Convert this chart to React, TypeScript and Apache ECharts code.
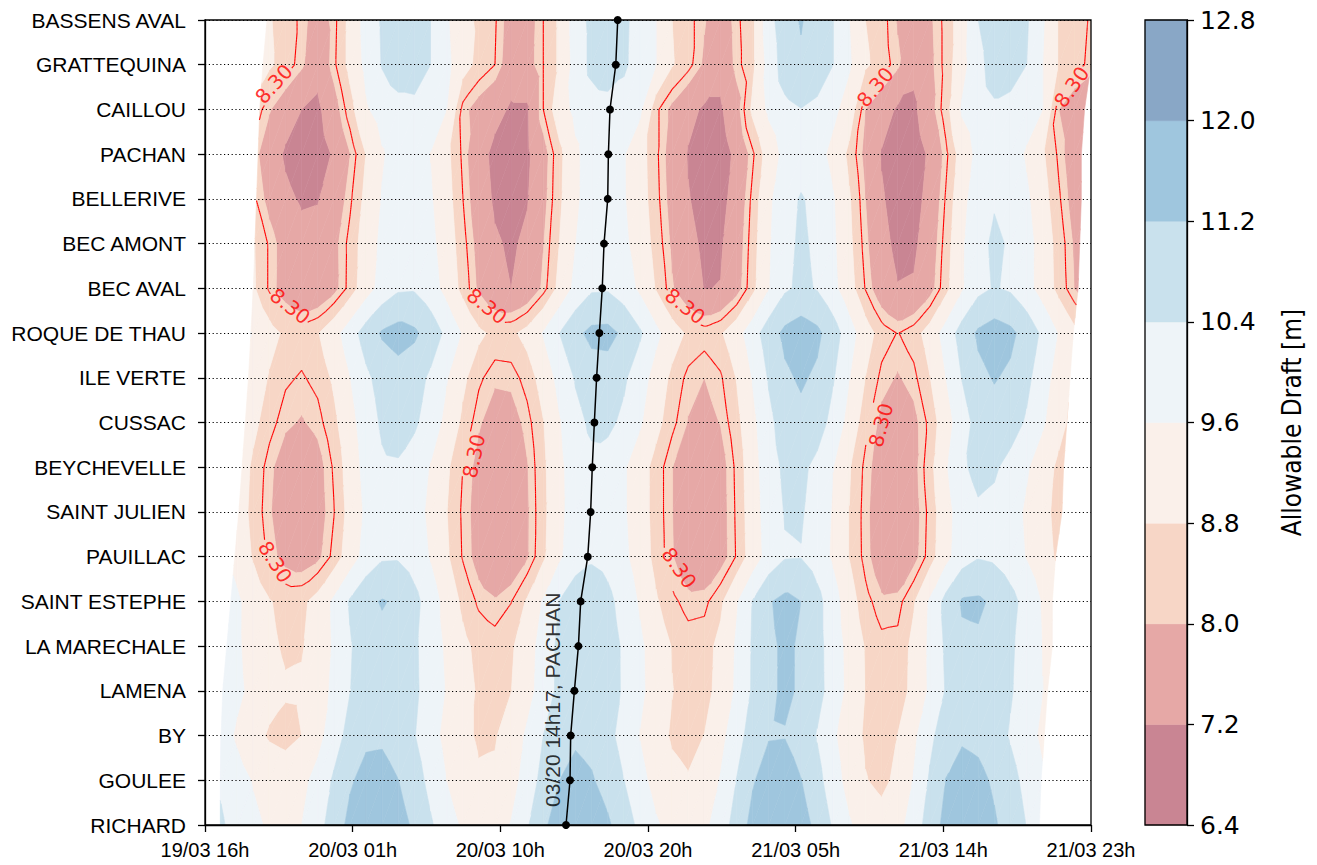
import React, { useEffect, useRef } from "react";
import * as echarts from "echarts";

// ---------- categories & ticks ----------
const stations = [
  "RICHARD", "GOULEE", "BY", "LAMENA", "LA MARECHALE", "SAINT ESTEPHE", "PAUILLAC",
  "SAINT JULIEN", "BEYCHEVELLE", "CUSSAC", "ILE VERTE", "ROQUE DE THAU", "BEC AVAL",
  "BEC AMONT", "BELLERIVE", "PACHAN", "CAILLOU", "GRATTEQUINA", "BASSENS AVAL",
];
const timeTickLabels = ["19/03 16h", "20/03 01h", "20/03 10h", "20/03 20h", "21/03 05h", "21/03 14h", "21/03 23h"];
const levels = [6.4, 7.2, 8.0, 8.8, 9.6, 10.4, 11.2, 12.0, 12.8];
const bandColors = ["#c98593", "#e6a8a6", "#f7d6c6", "#faf0ea", "#eef4f8", "#c9e1ed", "#9fc6de", "#89a7c6"];
const contourLevel = 8.3;

// hours after 19/03 16h where each station's forecast starts / ends
const dataStart = [0.95, 0.95, 1.0, 1.1, 1.35, 1.6, 1.85, 2.1, 2.3, 2.5, 2.7, 2.85, 3.0, 3.1, 3.2, 3.3, 3.4, 3.6, 3.85];
const dataEnd = [51.8, 51.9, 52.1, 52.3, 52.6, 52.6, 52.8, 53.2, 53.3, 53.5, 53.7, 53.9, 54.2, 54.3, 54.4, 54.4, 54.6, 55, 55];

// ---------- allowable draft (m), hourly from 19/03 16h (h = 0..55) ----------
const draftRichard = [10.8,10.5,10.1,9.75,9.5,9.4,9.6,10.1,10.8,11.4,11.75,11.8,11.5,11.07,10.5,9.93,9.49,9.23,9.25,9.64,10.32,11.05,11.59,11.8,11.67,11.31,10.79,10.21,9.69,9.33,9.2,9.42,9.98,10.74,11.44,11.85,11.87,11.53,10.99,10.3,9.68,9.22,9.05,9.32,9.98,10.77,11.44,11.7,11.6,11.29,10.86,10.38,9.9,9.54,9.32,9.35];
const draftGoulee = [10.59,10.29,9.9,9.55,9.3,9.2,9.38,9.87,10.51,11.11,11.45,11.47,11.21,10.76,10.17,9.59,9.14,8.88,8.9,9.28,9.95,10.66,11.2,11.4,11.27,10.92,10.41,9.84,9.33,8.98,8.85,9.07,9.65,10.42,11.13,11.55,11.57,11.22,10.66,9.95,9.3,8.83,8.65,8.94,9.65,10.5,11.22,11.5,11.4,11.09,10.66,10.18,9.7,9.34,9.12,9.15];
const draftBy = [10.34,9.96,9.48,9.04,8.72,8.6,8.8,9.33,10.03,10.68,11.05,11.08,10.84,10.43,9.9,9.37,8.96,8.72,8.75,9.11,9.73,10.4,10.91,11.1,10.98,10.62,10.12,9.57,9.07,8.72,8.6,8.81,9.35,10.08,10.76,11.15,11.17,10.86,10.35,9.72,9.13,8.71,8.55,8.81,9.44,10.21,10.85,11.1,11.01,10.73,10.33,9.89,9.45,9.12,8.92,8.92];
const draftLamena = [10.4,10.14,9.77,9.38,9.05,8.87,8.89,9.22,9.77,10.38,10.83,11.0,10.88,10.54,10.06,9.54,9.06,8.72,8.6,8.79,9.3,9.97,10.59,10.95,10.98,10.73,10.31,9.77,9.24,8.82,8.57,8.6,9.02,9.73,10.5,11.08,11.3,11.13,10.67,10.05,9.36,8.79,8.48,8.5,8.99,9.73,10.46,10.95,10.98,10.79,10.47,10.05,9.61,9.24,8.98,8.9];
const draftLaMarechale = [10.39,10.1,9.71,9.28,8.92,8.72,8.75,9.09,9.69,10.33,10.82,11.0,10.88,10.52,10.02,9.47,8.97,8.62,8.5,8.7,9.23,9.93,10.58,10.95,10.97,10.73,10.3,9.75,9.2,8.77,8.52,8.56,8.98,9.7,10.49,11.08,11.3,11.13,10.66,10.02,9.33,8.75,8.43,8.45,8.97,9.75,10.53,11.05,11.08,10.87,10.52,10.06,9.58,9.17,8.89,8.8];
const draftSaintEstephe = [10.48,10.16,9.72,9.24,8.84,8.62,8.65,9.05,9.74,10.48,11.04,11.25,11.09,10.64,10.0,9.3,8.66,8.21,8.05,8.28,8.88,9.67,10.42,10.84,10.87,10.59,10.12,9.5,8.88,8.41,8.13,8.17,8.66,9.52,10.44,11.14,11.4,11.2,10.66,9.93,9.12,8.45,8.08,8.12,8.74,9.7,10.66,11.28,11.32,11.07,10.66,10.11,9.53,9.04,8.71,8.6];
const draftPauillac = [10.08,9.78,9.32,8.73,8.19,7.8,7.65,7.87,8.43,9.19,9.89,10.3,10.32,10.03,9.54,8.9,8.26,7.77,7.48,7.51,7.93,8.68,9.47,10.07,10.3,10.16,9.77,9.21,8.59,8.03,7.64,7.5,7.73,8.34,9.15,9.91,10.34,10.37,10.02,9.47,8.78,8.14,7.67,7.5,7.79,8.5,9.35,10.07,10.35,10.26,9.97,9.56,9.11,8.66,8.32,8.12];
const draftSaintJulien = [9.98,9.67,9.2,8.6,8.05,7.65,7.5,7.72,8.28,9.04,9.74,10.15,10.17,9.9,9.43,8.82,8.22,7.75,7.48,7.5,7.92,8.63,9.4,9.98,10.2,10.07,9.69,9.15,8.55,8.01,7.63,7.5,7.74,8.37,9.21,9.99,10.44,10.47,10.1,9.52,8.79,8.12,7.63,7.45,7.74,8.45,9.3,10.02,10.3,10.21,9.91,9.49,9.03,8.57,8.23,8.02];
const draftBeychevelle = [10.07,9.77,9.28,8.67,8.11,7.7,7.55,7.77,8.36,9.15,9.87,10.29,10.32,10.04,9.55,8.92,8.3,7.81,7.53,7.55,7.96,8.66,9.42,9.98,10.2,10.06,9.69,9.15,8.55,8.01,7.63,7.5,7.75,8.4,9.27,10.07,10.54,10.57,10.2,9.61,8.86,8.18,7.69,7.5,7.81,8.59,9.52,10.29,10.6,10.5,10.16,9.69,9.17,8.65,8.26,8.03];
const draftCussac = [10.28,9.99,9.55,8.98,8.47,8.09,7.95,8.14,8.64,9.33,10.01,10.51,10.7,10.52,10.04,9.38,8.66,8.06,7.73,7.76,8.14,8.77,9.53,10.17,10.54,10.57,10.24,9.7,9.03,8.42,7.97,7.8,8.02,8.6,9.4,10.2,10.78,11.0,10.76,10.15,9.3,8.45,7.84,7.6,7.83,8.43,9.25,10.08,10.67,10.9,10.74,10.31,9.71,9.06,8.52,8.23];
const draftIleVerte = [10.48,10.21,9.78,9.24,8.74,8.38,8.25,8.44,8.91,9.58,10.24,10.71,10.9,10.73,10.27,9.65,8.96,8.39,8.08,8.11,8.48,9.1,9.85,10.47,10.84,10.87,10.52,9.97,9.28,8.64,8.17,8.0,8.23,8.83,9.65,10.48,11.07,11.3,11.07,10.46,9.62,8.79,8.18,7.95,8.18,8.78,9.6,10.43,11.02,11.25,11.07,10.6,9.95,9.24,8.65,8.33];
const draftRoqueDeThau = [10.78,10.51,10.08,9.54,9.04,8.68,8.55,8.76,9.29,10.03,10.76,11.29,11.5,11.33,10.86,10.22,9.53,8.95,8.63,8.66,9.03,9.65,10.4,11.02,11.39,11.42,11.07,10.51,9.8,9.15,8.68,8.5,8.72,9.28,10.05,10.83,11.38,11.6,11.37,10.77,9.95,9.12,8.53,8.28,8.53,9.11,9.93,10.74,11.32,11.55,11.37,10.9,10.25,9.54,8.95,8.63];
const draftBecAval = [10.1,9.94,9.49,8.89,8.23,7.68,7.38,7.41,7.8,8.46,9.24,9.9,10.29,10.32,9.94,9.34,8.59,7.89,7.39,7.2,7.45,8.11,9.0,9.81,10.29,10.32,10.0,9.45,8.75,8.05,7.5,7.18,7.22,7.73,8.61,9.56,10.28,10.55,10.35,9.81,9.08,8.27,7.6,7.23,7.27,7.75,8.6,9.51,10.19,10.45,10.3,9.87,9.26,8.59,7.98,7.55];
const draftBecAmont = [10.0,9.84,9.43,8.86,8.23,7.71,7.43,7.46,7.82,8.44,9.16,9.78,10.14,10.17,9.8,9.21,8.46,7.78,7.29,7.1,7.34,7.97,8.81,9.59,10.04,10.07,9.76,9.25,8.57,7.9,7.39,7.08,7.12,7.64,8.53,9.5,10.22,10.5,10.29,9.73,8.96,8.12,7.42,7.03,7.07,7.6,8.5,9.49,10.22,10.5,10.34,9.89,9.25,8.55,7.91,7.46];
const draftBellerive = [9.8,9.6,9.2,8.4,7.8,7.35,7.12,7.16,7.55,8.21,8.99,9.65,10.04,10.07,9.68,9.08,8.31,7.6,7.09,6.9,7.15,7.8,8.67,9.47,9.94,9.97,9.66,9.13,8.45,7.77,7.24,6.93,6.97,7.5,8.43,9.42,10.17,10.45,10.23,9.66,8.87,8.0,7.28,6.89,6.92,7.45,8.36,9.34,10.07,10.35,10.19,9.73,9.08,8.37,7.72,7.26];
const draftPachan = [9.7,9.4,8.9,8.2,7.6,7.1,6.85,6.86,7.28,7.98,8.82,9.52,9.94,9.97,9.58,8.98,8.21,7.5,6.99,6.8,7.06,7.73,8.62,9.46,9.94,9.97,9.65,9.1,8.4,7.7,7.15,6.83,6.87,7.36,8.22,9.14,9.84,10.1,9.9,9.36,8.63,7.82,7.15,6.78,6.82,7.32,8.19,9.13,9.83,10.1,9.95,9.51,8.89,8.21,7.59,7.15];
const draftCaillou = [9.7,9.4,9.0,8.6,8.05,7.55,7.2,7.05,7.7,8.55,9.5,9.95,10.15,10.2,10.0,9.6,8.15,7.75,7.45,7.1,7.1,8.3,9.2,9.8,10.05,10.1,10.0,9.75,8.4,7.85,7.4,7.1,7.1,7.75,8.95,9.75,10.2,10.38,10.2,9.8,9.2,8.0,7.55,7.1,7.05,7.75,8.55,9.7,10.1,10.3,10.2,9.95,9.6,8.0,7.6,7.3];
const draftGrattequina = [10.2,10.0,9.7,9.3,8.9,8.55,8.1,7.45,8.2,9.0,9.8,10.45,10.8,10.8,10.4,9.8,9.1,8.6,8.3,7.6,7.75,8.3,8.9,9.9,10.6,10.85,10.55,10.0,9.6,8.85,8.45,7.9,7.45,8.15,8.65,9.9,10.8,11.1,10.9,10.4,9.7,8.9,8.55,8.1,7.4,7.85,8.45,9.3,10.2,10.7,10.7,10.4,9.6,8.75,8.45,8.2];
const draftBassensAval = [10.2,10.0,9.7,9.3,8.85,8.55,8.2,7.65,8.15,9.0,9.9,10.5,10.8,10.8,10.4,9.7,9.0,8.7,8.35,7.7,7.7,8.3,8.9,10.0,10.6,10.9,10.6,10.0,9.6,8.8,8.45,8.05,7.55,8.2,8.65,10.1,10.9,11.25,10.9,10.4,9.6,8.8,8.5,7.95,7.5,7.9,8.45,9.2,10.4,10.8,10.85,10.5,9.7,8.75,8.5,8.25];

const draftRows = [
  draftRichard, draftGoulee, draftBy, draftLamena, draftLaMarechale, draftSaintEstephe,
  draftPauillac, draftSaintJulien, draftBeychevelle, draftCussac, draftIleVerte,
  draftRoqueDeThau, draftBecAval, draftBecAmont, draftBellerive, draftPachan,
  draftCaillou, draftGrattequina, draftBassensAval,
];

// ship passage: hour at each station (RICHARD -> BASSENS AVAL)
const shipHours = [22.41, 22.66, 22.7, 22.93, 23.18, 23.32, 23.76, 23.94, 24.04, 24.17, 24.31, 24.48, 24.66, 24.77, 25.0, 25.04, 25.14, 25.5, 25.62];
const shipLabel = { hour: 21.6, row: 2.8, text: "03/20 14h17, PACHAN" };

// contour label anchors: [hour, row, rotation deg]
const contourLabels = [
  [4.28, 16.57, 48], [5.28, 11.6, -38], [17.5, 11.6, -38], [29.8, 11.6, -38],
  [41.6, 16.5, 50], [53.8, 16.5, 55], [4.35, 5.88, -58], [16.7, 8.25, 78],
  [29.42, 5.75, -55], [41.96, 8.94, 75],
];

const MIN_PER_H = 60;
const X_MAX_MIN = 3300;
const X_STEP_MIN = 550;
const FONT = '"Liberation Sans", Arial, sans-serif';

type V = [number, number, number];

function clipPoly(poly: V[], f: (p: V) => number): V[] {
  const out: V[] = [];
  const n = poly.length;
  for (let k = 0; k < n; k++) {
    const a = poly[k];
    const b = poly[(k + 1) % n];
    const fa = f(a);
    const fb = f(b);
    if (fa >= 0) out.push(a);
    if ((fa >= 0) !== (fb >= 0)) {
      const t = fa / (fa - fb);
      out.push([a[0] + t * (b[0] - a[0]), a[1] + t * (b[1] - a[1]), a[2] + t * (b[2] - a[2])]);
    }
  }
  return out;
}

function cellTriangles(h: number, i: number): V[][] {
  const r0 = draftRows[i];
  const r1 = draftRows[i + 1];
  const A: V = [h, i, r0[h]];
  const B: V = [h + 1, i, r0[h + 1]];
  const C: V = [h + 1, i + 1, r1[h + 1]];
  const D: V = [h, i + 1, r1[h]];
  const leftF = (p: V) => p[0] - (dataStart[i] + (dataStart[i + 1] - dataStart[i]) * (p[1] - i));
  const rightF = (p: V) => dataEnd[i] + (dataEnd[i + 1] - dataEnd[i]) * (p[1] - i) - p[0];
  const res: V[][] = [];
  for (const tri of [[A, B, C], [A, C, D]] as V[][]) {
    const p = clipPoly(clipPoly(tri, leftF), rightF);
    if (p.length >= 3) res.push(p);
  }
  return res;
}

const cells: number[][] = [];
for (let i = 0; i < stations.length - 1; i++) {
  for (let h = 0; h < 55; h++) cells.push([(h + 0.5) * MIN_PER_H, i + 0.5, h, i]);
}

export default function App() {
  const ref = useRef<HTMLDivElement>(null);
  useEffect(() => {
    const chart = echarts.init(ref.current!, null, { renderer: "svg" });

    const renderFill = (_params: any, api: any) => {
      const h = api.value(2);
      const i = api.value(3);
      const children: any[] = [];
      for (const poly of cellTriangles(h, i)) {
        for (let b = 0; b < bandColors.length; b++) {
          const lo = b === 0 ? -1e9 : levels[b];
          const hi = b === bandColors.length - 1 ? 1e9 : levels[b + 1];
          const p = clipPoly(clipPoly(poly, (q) => q[2] - lo), (q) => hi - q[2]);
          if (p.length < 3) continue;
          const pts = p.map((q) => api.coord([q[0] * MIN_PER_H, q[1]]));
          children.push({
            type: "polygon",
            shape: { points: pts },
            style: { fill: bandColors[b], stroke: bandColors[b], lineWidth: 0.6 },
            silent: true,
          });
        }
      }
      return { type: "group", children };
    };

    const renderContour = (_params: any, api: any) => {
      const h = api.value(2);
      const i = api.value(3);
      const labelPx = contourLabels.map((c) => api.coord([c[0] * MIN_PER_H, c[1]]));
      const children: any[] = [];
      for (const poly of cellTriangles(h, i)) {
        const pts: number[][] = [];
        for (let k = 0; k < poly.length; k++) {
          const a = poly[k];
          const b = poly[(k + 1) % poly.length];
          const fa = a[2] - contourLevel;
          const fb = b[2] - contourLevel;
          if ((fa >= 0) !== (fb >= 0)) {
            const t = fa / (fa - fb);
            pts.push(api.coord([(a[0] + t * (b[0] - a[0])) * MIN_PER_H, a[1] + t * (b[1] - a[1])]));
          }
        }
        if (pts.length < 2) continue;
        const [p0, p1] = pts;
        const N = 10;
        for (let s = 0; s < N; s++) {
          const x1 = p0[0] + ((p1[0] - p0[0]) * s) / N;
          const y1 = p0[1] + ((p1[1] - p0[1]) * s) / N;
          const x2 = p0[0] + ((p1[0] - p0[0]) * (s + 1)) / N;
          const y2 = p0[1] + ((p1[1] - p0[1]) * (s + 1)) / N;
          const mx = (x1 + x2) / 2;
          const my = (y1 + y2) / 2;
          const hidden = labelPx.some((c) => Math.hypot(mx - c[0], my - c[1]) < 24);
          if (hidden) continue;
          children.push({
            type: "line",
            shape: { x1, y1, x2, y2 },
            style: { stroke: "#ff0000", lineWidth: 1.1 },
            silent: true,
          });
        }
      }
      return { type: "group", children };
    };

    const option: any = {
      animation: false,
      backgroundColor: "#ffffff",
      grid: [
        { left: 205, top: 20, width: 886, height: 805, show: false },
        { left: 1145, top: 20, width: 42, height: 805, show: false },
      ],
      xAxis: [
        {
          type: "value", gridIndex: 0, min: 0, max: X_MAX_MIN, interval: X_STEP_MIN, z: 5,
          axisLine: { show: true, onZero: false, lineStyle: { color: "#000", width: 1.3 } },
          axisTick: { show: true, length: 7, lineStyle: { color: "#000", width: 1.3 } },
          axisLabel: {
            formatter: (v: number) => timeTickLabels[Math.round(v / X_STEP_MIN)] ?? "",
            fontSize: 20, color: "#000", fontFamily: FONT, margin: 15,
            showMinLabel: true, showMaxLabel: true,
          },
          splitLine: { show: false },
        },
        { type: "value", gridIndex: 1, min: 0, max: 1, show: false },
      ],
      yAxis: [
        {
          type: "value", gridIndex: 0, min: 0, max: stations.length - 1, interval: 1, z: 5,
          axisLine: { show: true, onZero: false, lineStyle: { color: "#000", width: 1.3 } },
          axisTick: { show: true, length: 7, lineStyle: { color: "#000", width: 1.3 } },
          axisLabel: {
            formatter: (v: number) => stations[Math.round(v)] ?? "",
            fontSize: 21, color: "#000", fontFamily: FONT, margin: 19,
          },
          splitLine: { show: true, lineStyle: { color: "#000", width: 1.2, type: [1.2, 2.6] } },
        },
        {
          type: "value", gridIndex: 1, min: 6.4, max: 12.8, interval: 0.8, position: "right", z: 5,
          name: "Allowable Draft [m]", nameLocation: "middle", nameGap: 92, nameRotate: 90,
          nameTextStyle: { fontSize: 26, color: "#000", fontFamily: '"DejaVu Sans Condensed", "DejaVu Sans"' },
          axisLine: { show: true, onZero: false, lineStyle: { color: "#000", width: 1.3 } },
          axisTick: { show: true, length: 7, lineStyle: { color: "#000", width: 1.3 } },
          axisLabel: {
            formatter: (v: number) => v.toFixed(1),
            fontSize: 25, color: "#000", fontFamily: '"DejaVu Sans", sans-serif', margin: 13,
          },
          splitLine: { show: false },
        },
      ],
      graphic: [
        { type: "rect", z: 100, silent: true, shape: { x: 205, y: 20, width: 886, height: 805 }, style: { fill: "none", stroke: "#000", lineWidth: 1.3 } },
        { type: "rect", z: 100, silent: true, shape: { x: 1145, y: 20, width: 42, height: 805 }, style: { fill: "none", stroke: "#000", lineWidth: 1.3 } },
      ],
      series: [
        {
          type: "custom", xAxisIndex: 0, yAxisIndex: 0, z: 2, clip: true, progressive: 0,
          encode: { x: 0, y: 1 }, data: cells, renderItem: renderFill, silent: true,
        },
        {
          type: "custom", xAxisIndex: 0, yAxisIndex: 0, z: 3, clip: true, progressive: 0,
          encode: { x: 0, y: 1 }, data: cells, renderItem: renderContour, silent: true,
        },
        {
          type: "scatter", xAxisIndex: 0, yAxisIndex: 0, z: 8, symbolSize: 0, silent: true,
          data: contourLabels.map((c) => ({ value: [c[0] * MIN_PER_H, c[1]], label: { rotate: c[2] } })),
          label: { show: true, position: "inside", formatter: "8.30", color: "#ff0000", fontSize: 20, fontFamily: '"DejaVu Sans", sans-serif' },
        },
        {
          type: "line", xAxisIndex: 0, yAxisIndex: 0, z: 10, silent: true,
          data: shipHours.map((h, i) => [h * MIN_PER_H, i]),
          lineStyle: { color: "#000", width: 1.5 },
          symbol: "circle", symbolSize: 8, itemStyle: { color: "#000" },
        },
        {
          type: "scatter", xAxisIndex: 0, yAxisIndex: 0, z: 11, symbolSize: 0, silent: true,
          data: [[shipLabel.hour * MIN_PER_H, shipLabel.row]],
          label: { show: true, position: "inside", rotate: 90, formatter: shipLabel.text, color: "#000", fontSize: 21, fontFamily: FONT },
        },
        {
          type: "custom", xAxisIndex: 1, yAxisIndex: 1, z: 2, silent: true,
          encode: { x: 0, y: 1 },
          data: bandColors.map((_, b) => [0.5, (levels[b] + levels[b + 1]) / 2, b]),
          renderItem: (_params: any, api: any) => {
            const b = api.value(2);
            const p0 = api.coord([0, levels[b]]);
            const p1 = api.coord([1, levels[b + 1]]);
            return {
              type: "rect",
              shape: { x: p0[0], y: p1[1], width: p1[0] - p0[0], height: p0[1] - p1[1] },
              style: { fill: bandColors[b], stroke: bandColors[b], lineWidth: 0.5 },
            };
          },
        },
      ],
    };
    chart.setOption(option);
    return () => chart.dispose();
  }, []);
  return (
    <div
      ref={ref}
      style={{ position: "fixed", left: 0, top: 0, width: 1317, height: 865, background: "#fff" }}
    />
  );
}
